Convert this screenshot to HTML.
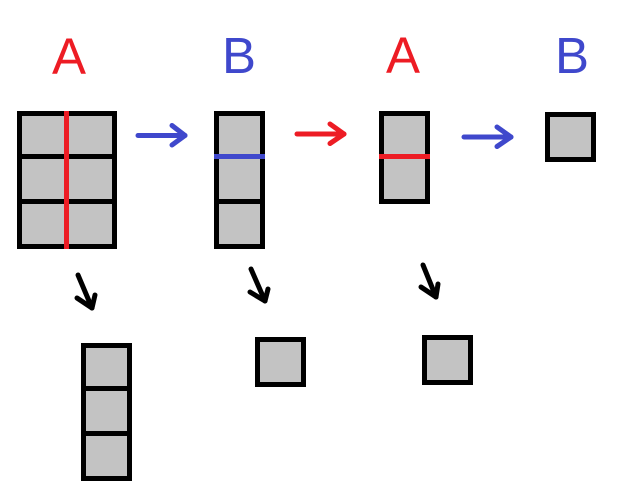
<!DOCTYPE html>
<html>
<head>
<meta charset="utf-8">
<style>
  html, body { margin: 0; padding: 0; background: #ffffff; }
  body { width: 626px; height: 504px; overflow: hidden; }
  svg { display: block; }
  text { font-family: "Liberation Sans", sans-serif; font-size: 51px; }
</style>
</head>
<body>
<svg width="626" height="504" viewBox="0 0 626 504" xmlns="http://www.w3.org/2000/svg">
  <rect x="0" y="0" width="626" height="504" fill="#ffffff"/>

  <!-- Labels -->
  <text x="69" y="74" fill="#ed1c24" text-anchor="middle">A</text>
  <text x="239" y="73" fill="#3f48cc" text-anchor="middle">B</text>
  <text x="403" y="73" fill="#ed1c24" text-anchor="middle">A</text>
  <text x="572" y="73" fill="#3f48cc" text-anchor="middle">B</text>

  <!-- Big 2x3 grid -->
  <rect x="17" y="111" width="100" height="138" fill="#000"/>
  <rect x="22" y="116" width="90" height="38" fill="#c3c3c3"/>
  <rect x="22" y="159" width="90" height="40" fill="#c3c3c3"/>
  <rect x="22" y="204" width="90" height="40" fill="#c3c3c3"/>
  <rect x="64" y="111" width="5" height="138" fill="#ed1c24"/>

  <!-- B column grid -->
  <rect x="214" y="111" width="51" height="138" fill="#000"/>
  <rect x="219" y="116" width="41" height="38" fill="#c3c3c3"/>
  <rect x="219" y="159" width="41" height="40" fill="#c3c3c3"/>
  <rect x="219" y="204" width="41" height="40" fill="#c3c3c3"/>
  <rect x="214" y="154" width="51" height="5" fill="#3f48cc"/>

  <!-- A 2-cell -->
  <rect x="379" y="111" width="51" height="93" fill="#000"/>
  <rect x="384" y="116" width="41" height="38" fill="#c3c3c3"/>
  <rect x="384" y="159" width="41" height="40" fill="#c3c3c3"/>
  <rect x="379" y="154" width="51" height="5" fill="#ed1c24"/>

  <!-- Top-right square -->
  <rect x="545" y="112" width="51" height="50" fill="#000"/>
  <rect x="550" y="117" width="41" height="40" fill="#c3c3c3"/>

  <!-- Bottom column -->
  <rect x="81" y="343" width="51" height="138" fill="#000"/>
  <rect x="86" y="348" width="41" height="38" fill="#c3c3c3"/>
  <rect x="86" y="391" width="41" height="40" fill="#c3c3c3"/>
  <rect x="86" y="436" width="41" height="40" fill="#c3c3c3"/>

  <!-- Bottom squares -->
  <rect x="255" y="337" width="51" height="50" fill="#000"/>
  <rect x="260" y="342" width="41" height="40" fill="#c3c3c3"/>
  <rect x="422" y="335" width="51" height="50" fill="#000"/>
  <rect x="427" y="340" width="41" height="40" fill="#c3c3c3"/>

  <!-- Horizontal arrows -->
  <g fill="none" stroke-width="5" stroke-linecap="round" stroke-linejoin="round">
    <g stroke="#3f48cc">
      <line x1="138" y1="135.5" x2="185" y2="135.5"/>
      <polyline points="172,125.5 185,135.5 172,145"/>
    </g>
    <g stroke="#ed1c24">
      <line x1="297" y1="134" x2="344" y2="134"/>
      <polyline points="330,124 344,134 330,143.5"/>
    </g>
    <g stroke="#3f48cc">
      <line x1="464" y1="137" x2="511" y2="137"/>
      <polyline points="497,127 511,137 497,146.5"/>
    </g>

    <!-- Diagonal arrows -->
    <g stroke="#000">
      <line x1="78" y1="275" x2="92" y2="308"/>
      <polyline points="77,298 92,308 95,295"/>
      <line x1="251" y1="269" x2="265" y2="301"/>
      <polyline points="250,292 265,301 268,289"/>
      <line x1="423" y1="265" x2="436" y2="297"/>
      <polyline points="421,287 436,297 438,284"/>
    </g>
  </g>
</svg>
</body>
</html>
